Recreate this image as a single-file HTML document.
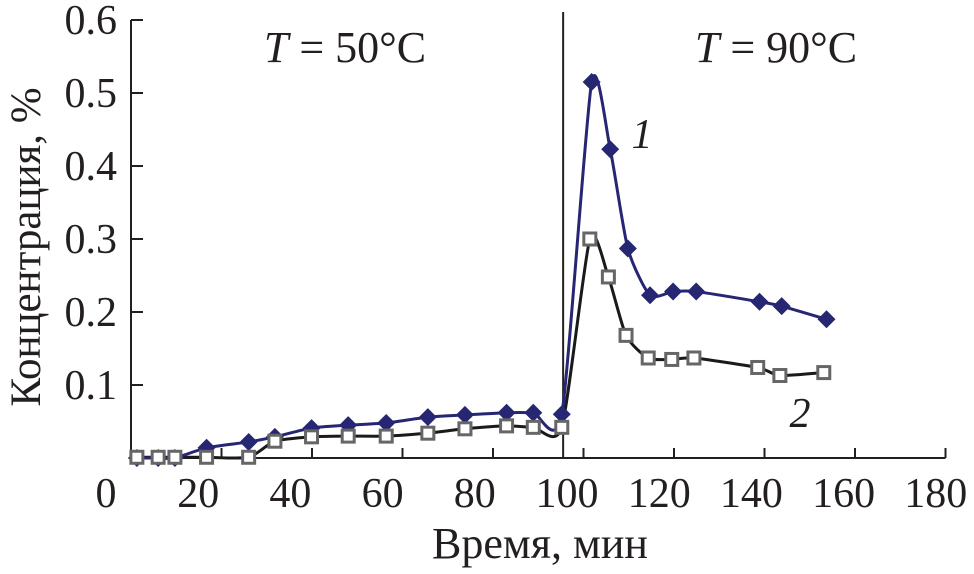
<!DOCTYPE html>
<html><head><meta charset="utf-8"><style>
body{margin:0;background:#fff}
svg text{font-family:"Liberation Serif",serif;fill:#231f20}
</style></head><body>
<svg id="chart" width="974" height="569" xmlns="http://www.w3.org/2000/svg">
<g id="axes"></g>
<g id="series"></g>
<text x="345" y="62" font-size="44" text-anchor="middle"><tspan font-style="italic">T</tspan> = 50°C</text>
<text x="776" y="62" font-size="44" text-anchor="middle"><tspan font-style="italic">T</tspan> = 90°C</text>
<text x="642" y="148" font-size="42" font-style="italic" text-anchor="middle">1</text>
<text x="800" y="427" font-size="42" font-style="italic" text-anchor="middle">2</text>
<text x="540" y="558" font-size="44" text-anchor="middle">Время, мин</text>
<text transform="translate(40,247) rotate(-90)" font-size="43" text-anchor="middle">Концентрация, %</text>
</svg>
<script>
const xTicks=[0,20,40,60,80,100,120,140,160,180];
const yTicks=[0.1,0.2,0.3,0.4,0.5,0.6];
const yTickLabels=["0.1","0.2","0.3","0.4","0.5","0.6"];
const s1x=[1.3,6,9.7,16.7,26,31.8,39.9,48,56.4,65.6,73.8,83,88.9,95.2,101.8,105.9,109.8,114.7,119.8,124.9,138.9,143.8,153.7];
const s1y=[0,0,0,0.014,0.022,0.029,0.041,0.045,0.048,0.056,0.059,0.062,0.062,0.060,0.515,0.423,0.287,0.223,0.228,0.228,0.214,0.208,0.19];
const s2x=[1.3,6,9.7,16.7,26,31.8,39.9,48,56.4,65.6,73.8,83,88.9,95.2,101.4,105.5,109.4,114.3,119.5,124.4,138.5,143.4,153.1];
const s2y=[0.001,0.001,0.001,0.001,0.001,0.023,0.029,0.030,0.030,0.034,0.040,0.044,0.042,0.042,0.300,0.248,0.168,0.137,0.135,0.137,0.124,0.113,0.117];
const divider=95.5;
const NS="http://www.w3.org/2000/svg";
const X=v=>131+v*4.525, XL=v=>106+v*4.61, Y=v=>458-v*730;
function mk(t,a,p){const e=document.createElementNS(NS,t);for(const k in a)e.setAttribute(k,a[k]);p.appendChild(e);return e;}
const ax=document.getElementById('axes'), sg=document.getElementById('series');
let l=mk('line',{x1:X(0),y1:Y(0),x2:X(180),y2:Y(0),stroke:'#231f20','stroke-width':2},ax);


l=mk('line',{x1:X(0),y1:Y(0),x2:X(0),y2:Y(0.6),stroke:'#231f20','stroke-width':2},ax);


xTicks.forEach(v=>{
 if(v>0){const t=mk('line',{x1:X(v),y1:Y(0),x2:X(v),y2:Y(0)-10,stroke:'#231f20','stroke-width':2},ax);
 
 }
 const tx=mk('text',{x:XL(v),y:507,'font-size':42,'text-anchor':'middle'},ax);tx.textContent=v;
 
 
});
yTicks.forEach((v,i)=>{
 const t=mk('line',{x1:X(0),y1:Y(v),x2:X(0)+12,y2:Y(v),stroke:'#231f20','stroke-width':2},ax);
 
 
 const tx=mk('text',{x:117,y:Y(v)+14,'font-size':42,'text-anchor':'end'},ax);tx.textContent=yTickLabels[i];
 
 
});
l=mk('line',{x1:X(divider),y1:12,x2:X(divider),y2:Y(0),stroke:'#231f20','stroke-width':2},ax);


function path(xs,ys){const p=xs.map((x,i)=>[X(x),Y(ys[i])]);let d=`M${p[0][0]},${p[0][1]}`;
 for(let i=0;i<p.length-1;i++){const p0=p[Math.max(0,i-1)],p1=p[i],p2=p[i+1],p3=p[Math.min(p.length-1,i+2)];const k=9;
 d+=` C${p1[0]+(p2[0]-p0[0])/k},${p1[1]+(p2[1]-p0[1])/k} ${p2[0]-(p3[0]-p1[0])/k},${p2[1]-(p3[1]-p1[1])/k} ${p2[0]},${p2[1]}`;}return d;}
let pa=mk('path',{d:path(s2x,s2y),fill:'none',stroke:'#1a1a1a','stroke-width':3},sg);


pa=mk('path',{d:path(s1x,s1y),fill:'none',stroke:'#262673','stroke-width':3},sg);


s1x.forEach((x,i)=>{const cx=X(x),cy=Y(s1y[i]);
 const m=mk('polygon',{points:`${cx},${cy-9} ${cx+9},${cy} ${cx},${cy+9} ${cx-9},${cy}`,fill:'#262673'},sg);
 
 });
s2x.forEach((x,i)=>{const cx=X(x),cy=Y(s2y[i]);
 const m=mk('rect',{x:cx-6,y:cy-6,width:12,height:12,fill:'#fff',stroke:'#666','stroke-width':3},sg);
 
 });
</script>
</body></html>
